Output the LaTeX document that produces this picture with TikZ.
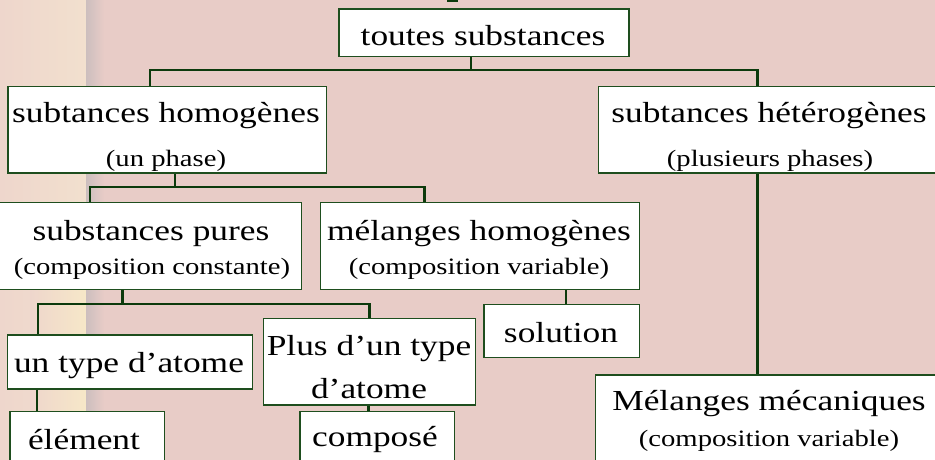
\documentclass[tikz,border=0pt]{standalone}
\usepackage{fontspec}
\setmainfont{Liberation Serif}
\definecolor{bg}{RGB}{232,204,199}
\definecolor{stripA}{RGB}{238,214,204}
\definecolor{stripB}{RGB}{242,224,206}
\definecolor{cream}{RGB}{247,232,200}
\definecolor{greyband}{RGB}{204,190,190}
\definecolor{lineg}{RGB}{12,58,12}
\definecolor{boxg}{RGB}{30,78,30}
\newcommand{\wideT}[1]{\scalebox{1.22}[1]{#1}}
\tikzset{
  box/.style={draw=boxg, line width=1.3pt, fill=white, inner sep=0pt, anchor=north west},
  big/.style={font=\fontsize{29}{33}\selectfont, inner sep=0pt, anchor=base},
  small/.style={font=\fontsize{23.5}{27}\selectfont, inner sep=0pt, anchor=base},
  conn/.style={draw=lineg, line width=2.4pt},
}
\begin{document}
\begin{tikzpicture}[x=1pt,y=-1pt]
\useasboundingbox (0,0) rectangle (935,460);
\begin{scope}
\clip (0,0) rectangle (935,460);
% background
\fill[bg] (0,0) rectangle (935,460);
\shade[left color=stripA, right color=stripB] (0,0) rectangle (88,460);
\shade[left color=stripA, right color=cream] (30,280) rectangle (88,460);
\shade[left color=greyband, right color=bg] (86,0) rectangle (104,460);
% title fragment
\fill[lineg] (447,0) rectangle (458,2.5);
% boxes
\node[box, minimum width=290pt, minimum height=47.7pt] (toutes) at (338.3,8.3) {};
\node[box, minimum width=318.3pt, minimum height=86.6pt] (hom) at (7.3,85.7) {};
\node[box, minimum width=344pt, minimum height=86.6pt] (het) at (598,85.7) {};
\node[box, minimum width=304pt, minimum height=87.3pt] (pures) at (-3,201.7) {};
\node[box, minimum width=319pt, minimum height=87.3pt] (melh) at (320,201.7) {};
\node[box, minimum width=244.7pt, minimum height=54pt] (untype) at (7,334.3) {};
\node[box, minimum width=212.3pt, minimum height=86.6pt] (plus) at (262.7,317.7) {};
\node[box, minimum width=155.7pt, minimum height=53pt] (solution) at (483.3,304) {};
\node[box, minimum width=350pt, minimum height=100pt] (meca) at (595,374.3) {};
\node[box, minimum width=154.7pt, minimum height=60pt] (elem) at (9.3,411) {};
\node[box, minimum width=154.7pt, minimum height=60pt] (compo) at (299.3,411) {};
% texts
\node[big] (t-toutes) at (483,46) {\wideT{toutes substances}};
\node[big] (t-hom) at (166,122.3) {\wideT{subtances homogènes}};
\node[small] (s-hom) at (166,166.5) {\wideT{(un phase)}};
\node[big] (t-het) at (769,122.3) {\wideT{subtances hétérogènes}};
\node[small] (s-het) at (770,166.5) {\wideT{(plusieurs phases)}};
\node[big] (t-pures) at (151,240) {\wideT{substances pures}};
\node[small] (s-pures) at (152,274.5) {\wideT{(composition constante)}};
\node[big] (t-melh) at (479,240) {\wideT{mélanges homogènes}};
\node[small] (s-melh) at (479,274.5) {\wideT{(composition variable)}};
\node[big] (t-untype) at (129,372.7) {\wideT{un type d’atome}};
\node[big] (t-plus1) at (369,355.7) {\wideT{Plus d’un type}};
\node[big] (t-plus2) at (369,398.3) {\wideT{d’atome}};
\node[big] (t-sol) at (561,342.7) {\wideT{solution}};
\node[big] (t-meca) at (769,410) {\wideT{Mélanges mécaniques}};
\node[small] (s-meca) at (769,446) {\wideT{(composition variable)}};
\node[big] (t-elem) at (84,449) {\wideT{élément}};
\node[big] (t-compo) at (375,446) {\wideT{composé}};
% junctions
\coordinate (j1) at (470.7,70.3);
\coordinate (jL1) at (150,70.3);
\coordinate (jR1) at (757.3,70.3);
\coordinate (j2) at (175,186.7);
\coordinate (jL2) at (90,186.7);
\coordinate (jR2) at (424.3,186.7);
\coordinate (j3) at (122.3,304);
\coordinate (jL3) at (37.7,304);
\coordinate (jR3) at (369.3,304);
\coordinate (xs) at (566,0);
\coordinate (xe) at (36.7,0);
\coordinate (xc) at (368.3,0);
% connectors
\draw[conn] (toutes.south -| j1) -- (j1);
\draw[conn] (hom.north -| jL1) -- (jL1) -- (jR1) -- (het.north -| jR1);
\draw[conn] (hom.south -| j2) -- (j2);
\draw[conn] (pures.north -| jL2) -- (jL2) -- (jR2) -- (melh.north -| jR2);
\draw[conn] (pures.south -| j3) -- (j3);
\draw[conn] (untype.north -| jL3) -- (jL3) -- (jR3) -- (plus.north -| jR3);
\draw[conn] (melh.south -| xs) -- (solution.north -| xs);
\draw[conn] (het.south -| jR1) -- (meca.north -| jR1);
\draw[conn] (untype.south -| xe) -- (elem.north -| xe);
\draw[conn] (plus.south -| xc) -- (compo.north -| xc);
\end{scope}
\end{tikzpicture}
\end{document}
